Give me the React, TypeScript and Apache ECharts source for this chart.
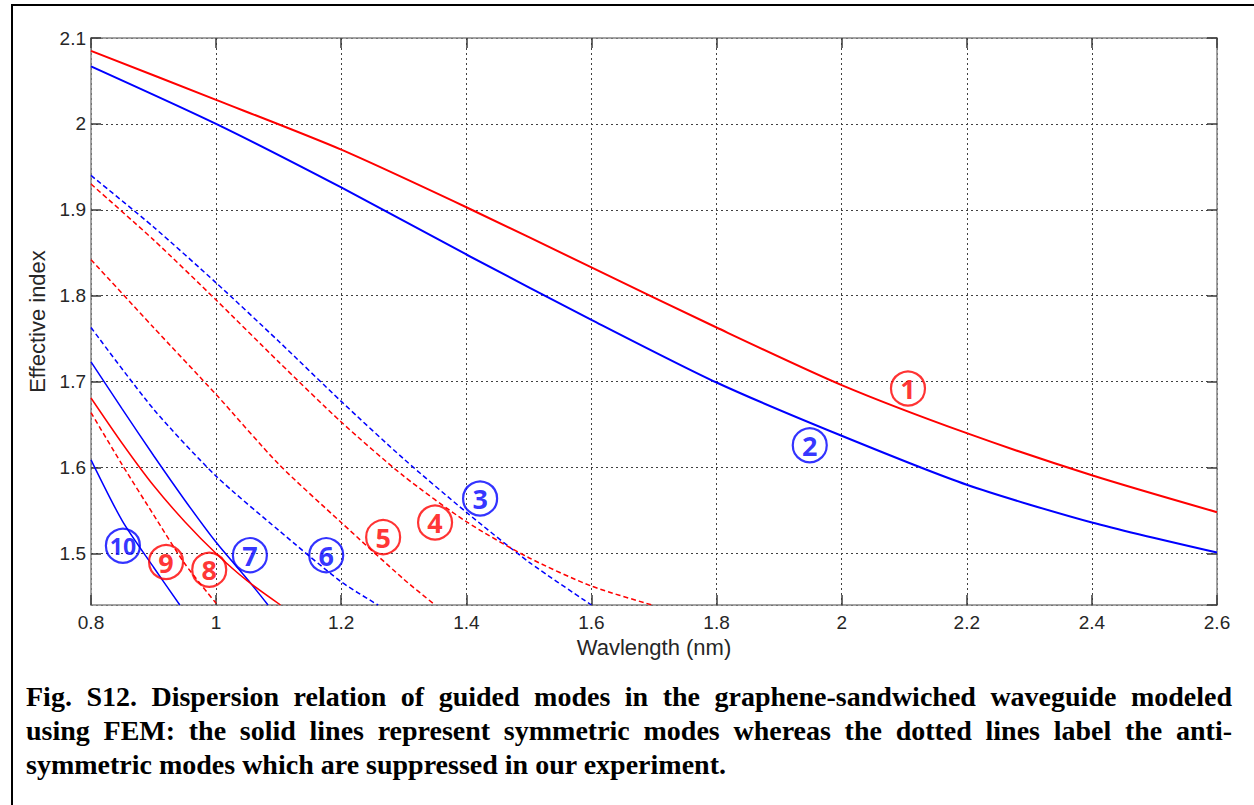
import React, { useEffect, useRef } from "react";
import * as echarts from "echarts";

// ---- data (wavelength nm, effective index) ----
const mode1 = [[0.8, 2.085], [1.0, 2.028], [1.2, 1.970], [1.4, 1.903], [1.6, 1.833], [1.8, 1.763], [2.0, 1.696], [2.2, 1.640], [2.4, 1.591], [2.6, 1.548]];
const mode2 = [[0.8, 2.067], [1.0, 2.0], [1.2, 1.926], [1.4, 1.848], [1.6, 1.772], [1.8, 1.699], [2.0, 1.637], [2.2, 1.580], [2.4, 1.536], [2.6, 1.501]];
const mode3 = [[0.8, 1.940], [0.9, 1.880], [1.0, 1.815], [1.1, 1.747], [1.2, 1.677], [1.3, 1.610], [1.4, 1.548], [1.5, 1.490], [1.6, 1.44]];
const mode4 = [[0.8, 1.930], [0.9, 1.865], [1.0, 1.795], [1.1, 1.723], [1.2, 1.653], [1.3, 1.590], [1.4, 1.537], [1.5, 1.495], [1.6, 1.462], [1.697, 1.44]];
const mode5 = [[0.8, 1.842], [0.9, 1.763], [1.0, 1.685], [1.1, 1.604], [1.2, 1.536], [1.3, 1.470], [1.35, 1.44]];
const mode6 = [[0.8, 1.763], [0.9, 1.668], [1.0, 1.590], [1.1, 1.527], [1.2, 1.467], [1.259, 1.44]];
const mode7 = [[0.8, 1.723], [0.85, 1.668], [0.9, 1.614], [0.95, 1.562], [1.0, 1.513], [1.05, 1.470], [1.083, 1.44]];
const mode8 = [[0.8, 1.681], [0.85, 1.628], [0.9, 1.579], [0.95, 1.537], [1.0, 1.500], [1.05, 1.468], [1.103, 1.44]];
const mode9 = [[0.8, 1.664], [0.85, 1.603], [0.9, 1.545], [0.95, 1.488], [1.0, 1.442]];
const mode10 = [[0.8, 1.609], [0.85, 1.538], [0.9, 1.484], [0.942, 1.44]];

const modeColors = ["red", "blue", "blue", "red", "red", "blue", "blue", "red", "red", "blue"];
const modeDashed = [false, false, true, true, true, true, false, false, true, false];

const labelTexts = ["1", "2", "3", "4", "5", "6", "7", "8", "9", "10"];
const labelX = [2.106, 1.949, 1.422, 1.350, 1.267, 1.176, 1.054, 0.989, 0.920, 0.851];
const labelY = [1.692, 1.626, 1.564, 1.536, 1.519, 1.498, 1.498, 1.481, 1.490, 1.509];

const xMin = 0.8, xMax = 2.6, xStep = 0.2;
const yMin = 1.44, yMax = 2.1;

const captionLines = [
  "Fig. S12. Dispersion relation of guided modes in the graphene-sandwiched waveguide modeled",
  "using FEM: the solid lines represent symmetric modes whereas the dotted lines label the anti-",
  "symmetric modes which are suppressed in our experiment.",
];

export default function App() {
  const ref = useRef<HTMLDivElement>(null);

  useEffect(() => {
    document.body.style.margin = "0";
    const chart = echarts.init(ref.current!, null, { renderer: "svg" });
    const RED = "#ff0000";
    const BLUE = "#0000ff";
    const col = (c: string) => (c === "red" ? RED : BLUE);
    const modes = [mode1, mode2, mode3, mode4, mode5, mode6, mode7, mode8, mode9, mode10];

    const axisLineStyle = { color: "#858585", width: 1.5 };
    const tickStyle = { color: "#3a3a3a", width: 1.5 };
    const gridStyle = { color: "#404040", width: 1, type: [2, 3] as any };
    const fmt = (v: number) => String(Math.round(v * 10) / 10);

    const lineSeries = modes.map((d, i) => ({
      type: "line",
      data: d,
      showSymbol: false,
      smooth: 0.25,
      silent: true,
      lineStyle: {
        color: col(modeColors[i]),
        width: i < 2 ? 2 : 1.5,
        type: modeDashed[i] ? [5, 3] : "solid",
      },
      z: 3,
    }));

    const labelSeries = {
      type: "scatter",
      symbol: "circle",
      symbolSize: 34,
      silent: true,
      z: 5,
      data: labelX.map((x, i) => ({
        value: [x, labelY[i]],
        itemStyle: {
          color: "rgba(255,255,255,0)",
          borderColor: col(modeColors[i]),
          borderWidth: 2.2,
        },
        label: {
          color: col(modeColors[i]),
          fontSize: labelTexts[i].length > 1 ? 23 : 27,
        },
      })),
      label: {
        show: true,
        position: "inside",
        fontWeight: "bold",
        fontFamily: "Noto Sans",
        formatter: (p: any) => labelTexts[p.dataIndex],
      },
      emphasis: { disabled: true },
    };

    chart.setOption({
      animation: false,
      backgroundColor: "transparent",
      grid: { left: 91, right: 37, top: 38, bottom: 65, containLabel: false },
      xAxis: [
        {
          type: "value",
          min: xMin,
          max: xMax,
          interval: xStep,
          position: "bottom",
          axisLine: { show: true, onZero: false, lineStyle: axisLineStyle },
          axisTick: { show: true, inside: true, length: 10, lineStyle: tickStyle },
          axisLabel: { color: "#262626", fontSize: 19, fontFamily: "Liberation Sans", margin: 8, formatter: fmt },
          splitLine: { show: true, lineStyle: gridStyle },
          name: "Wavlength (nm)",
          nameLocation: "middle",
          nameGap: 30,
          nameTextStyle: { color: "#262626", fontSize: 22, fontFamily: "Liberation Sans" },
        },
        {
          type: "value",
          min: xMin,
          max: xMax,
          interval: xStep,
          position: "top",
          axisLine: { show: true, onZero: false, lineStyle: axisLineStyle },
          axisTick: { show: true, inside: true, length: 10, lineStyle: tickStyle },
          axisLabel: { show: false },
          splitLine: { show: false },
        },
      ],
      yAxis: [
        {
          type: "value",
          min: yMin,
          max: yMax,
          minInterval: 0.1,
          maxInterval: 0.1,
          position: "left",
          axisLine: { show: true, onZero: false, lineStyle: axisLineStyle },
          axisTick: { show: true, inside: true, length: 10, lineStyle: tickStyle },
          axisLabel: { color: "#262626", fontSize: 19, fontFamily: "Liberation Sans", margin: 5, formatter: fmt, showMinLabel: false },
          splitLine: { show: true, lineStyle: gridStyle },
          name: "Effective index",
          nameLocation: "middle",
          nameGap: 38,
          nameTextStyle: { color: "#262626", fontSize: 22, fontFamily: "Liberation Sans" },
        },
        {
          type: "value",
          min: yMin,
          max: yMax,
          minInterval: 0.1,
          maxInterval: 0.1,
          position: "right",
          axisLine: { show: true, onZero: false, lineStyle: axisLineStyle },
          axisTick: { show: true, inside: true, length: 10, lineStyle: tickStyle },
          axisLabel: { show: false },
          splitLine: { show: false },
        },
      ],
      series: [...lineSeries, labelSeries],
    });
    return () => chart.dispose();
  }, []);

  const lineStyleBase: React.CSSProperties = {
    height: 34,
    whiteSpace: "nowrap",
    overflow: "visible",
  };

  return (
    <div style={{ position: "relative", width: 1254, height: 805, background: "#fff", overflow: "hidden" }}>
      <div
        style={{
          position: "absolute",
          left: 11,
          top: 4,
          width: 1260,
          height: 820,
          borderTop: "2px solid #000",
          borderLeft: "2px solid #000",
        }}
      />
      <div ref={ref} style={{ position: "absolute", left: 0, top: 0, width: 1254, height: 670 }} />
      <div
        style={{
          position: "absolute",
          left: 26,
          top: 680,
          width: 1206,
          fontFamily: "'Liberation Serif', 'Times New Roman', serif",
          fontWeight: "bold",
          fontSize: 28,
          lineHeight: "34px",
          color: "#000",
        }}
      >
        {captionLines.map((t, i) => (
          <div
            key={i}
            style={{
              ...lineStyleBase,
              textAlign: i < 2 ? "justify" : "left",
              textAlignLast: i < 2 ? "justify" : "left",
            }}
          >
            {t}
          </div>
        ))}
      </div>
    </div>
  );
}
